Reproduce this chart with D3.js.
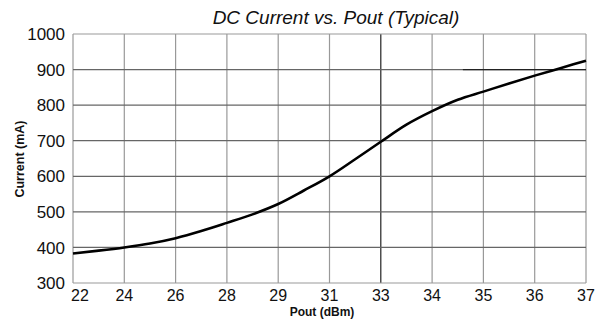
<!DOCTYPE html>
<html lang="en">
<head>
<meta charset="utf-8">
<script src="https://d3js.org/d3.v7.min.js"></script>
<style>
body { margin: 0; background: #fff; }
text { font-family: "Liberation Sans", Arial, sans-serif; }
</style>
</head>
<body>
<svg width="601" height="321"></svg>
<script>
// tick labels along x (spaced evenly in the original, even though values are not)
var xTicks = [22, 24, 26, 28, 29, 31, 33, 34, 35, 36, 37];
var yTicks = [300, 400, 500, 600, 700, 800, 900, 1000];

// curve
var pout = [22, 23, 24, 25, 26, 27, 28, 28.5, 29, 30, 31, 32, 33, 33.5, 34, 34.5, 35, 35.5, 36, 36.5, 37];
var current = [383, 391, 400, 411, 426, 446, 469, 493, 522, 560, 600, 648, 697, 745, 783, 815, 838, 861, 883, 904, 925];

var svg = d3.select("svg"),
  margin = {top: 34, right: 15, bottom: 38, left: 73},
  width = +svg.attr("width") - margin.left - margin.right,
  height = +svg.attr("height") - margin.top - margin.bottom,
  g = svg.append("g").attr("transform", "translate(" + margin.left + "," + margin.top + ")");

// piecewise scale so each labelled value lands on its own grid line
var x = d3.scaleLinear()
  .domain(xTicks)
  .range(xTicks.map(function (d, i) { return i * width / (xTicks.length - 1); }));

var y = d3.scaleLinear()
  .domain([300, 1000])
  .range([height, 0]);

// vertical grid
g.selectAll(".vgrid")
  .data(xTicks)
  .enter().append("line")
  .attr("class", "vgrid")
  .attr("x1", function (d) { return x(d); })
  .attr("x2", function (d) { return x(d); })
  .attr("y1", 0)
  .attr("y2", height)
  .attr("stroke", function (d) { return d == 33 ? "#222" : "#999"; })
  .attr("stroke-width", 1.2);

// horizontal grid
g.selectAll(".hgrid")
  .data(yTicks)
  .enter().append("line")
  .attr("class", "hgrid")
  .attr("x1", 0)
  .attr("x2", width)
  .attr("y1", function (d) { return y(d); })
  .attr("y2", function (d) { return y(d); })
  .attr("stroke", function (d) { return (d == 300 || d == 1000) ? "#999" : "#666"; })
  .attr("stroke-width", 1.2);

// darker piece on the 900 line
g.append("line")
  .attr("x1", x(34.6))
  .attr("x2", width)
  .attr("y1", y(900))
  .attr("y2", y(900))
  .attr("stroke", "#222")
  .attr("stroke-width", 1.2);

// y labels
g.selectAll(".ylab")
  .data(yTicks)
  .enter().append("text")
  .attr("class", "ylab")
  .attr("x", -8)
  .attr("y", function (d) { return y(d); })
  .attr("dy", "0.36em")
  .attr("text-anchor", "end")
  .style("font-size", "17px")
  .attr("fill", "#111")
  .text(function (d) { return d; });

// x labels
g.selectAll(".xlab")
  .data(xTicks)
  .enter().append("text")
  .attr("class", "xlab")
  .attr("x", function (d, i) { return x(d) + (i == 0 ? 7 : 0); })
  .attr("y", height + 18)
  .attr("text-anchor", "middle")
  .style("font-size", "16px")
  .attr("fill", "#111")
  .text(function (d) { return d; });

// curve
var line = d3.line()
  .x(function (d) { return x(d[0]); })
  .y(function (d) { return y(d[1]); })
  .curve(d3.curveMonotoneX);

g.append("path")
  .datum(d3.zip(pout, current))
  .attr("fill", "none")
  .attr("stroke", "#000")
  .attr("stroke-width", 2.6)
  .attr("d", line);

// titles
svg.append("text")
  .attr("x", 336)
  .attr("y", 24)
  .attr("text-anchor", "middle")
  .style("font-size", "19px")
  .style("font-style", "italic")
  .attr("fill", "#111")
  .text("DC Current vs. Pout (Typical)");

svg.append("text")
  .attr("x", 322)
  .attr("y", 316)
  .attr("text-anchor", "middle")
  .style("font-size", "12px")
  .style("font-weight", "bold")
  .attr("fill", "#111")
  .text("Pout (dBm)");

svg.append("text")
  .attr("transform", "translate(24,159) rotate(-90)")
  .attr("text-anchor", "middle")
  .style("font-size", "12.5px")
  .style("font-weight", "bold")
  .attr("fill", "#111")
  .text("Current (mA)");
</script>
</body>
</html>
